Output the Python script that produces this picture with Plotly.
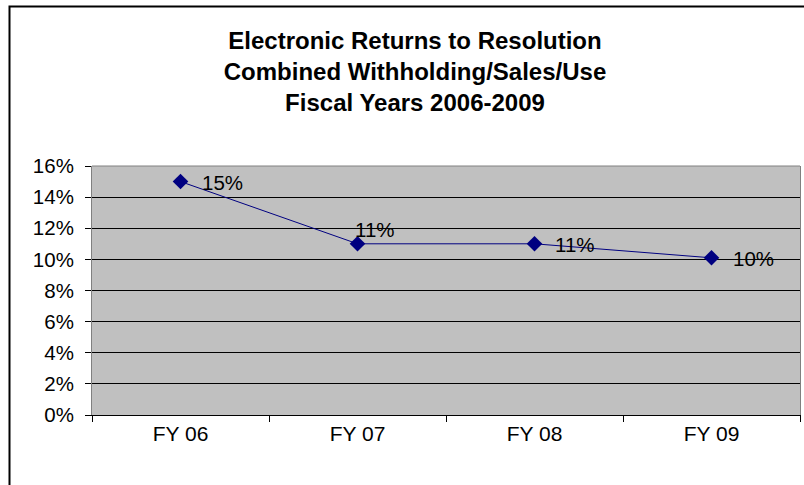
import plotly.graph_objects as go

categories = ["FY 06", "FY 07", "FY 08", "FY 09"]
values = [0.15, 0.11, 0.11, 0.101]
labels = ["15%", "11%", "11%", "10%"]
y_ticks = [0, 0.02, 0.04, 0.06, 0.08, 0.10, 0.12, 0.14, 0.16]
y_tick_text = ["0%", "2%", "4%", "6%", "8%", "10%", "12%", "14%", "16%"]

# label pixel offsets (style only)
label_dx = [19, -5, 18, 19]
label_dy = [-1, 14, -1, -1]

W, H = 804, 485
L, R, T, B = 92, 4, 166, 70
pw, ph = W - L - R, H - T - B

font = "Arial, Liberation Sans, sans-serif"

fig = go.Figure()
fig.add_trace(go.Scatter(
    x=categories, y=values, mode="lines+markers",
    line=dict(color="#000080", width=1),
    marker=dict(symbol="diamond", size=12, color="#000080"),
    cliponaxis=False, showlegend=False,
))

for c, v, t, dx, dy in zip(categories, values, labels, label_dx, label_dy):
    fig.add_annotation(x=c, y=v, text=t, showarrow=False, xanchor="left", yanchor="middle",
                       xshift=dx, yshift=dy, font=dict(family=font, size=20.5, color="black"))

def px_x(p):
    return (p - L) / pw

def px_y(p):
    return (H - B - p) / ph

fig.update_layout(
    width=W, height=H,
    margin=dict(l=L, r=R, t=T, b=B),
    paper_bgcolor="white", plot_bgcolor="#C0C0C0",
    font=dict(family=font, size=20.5, color="black"),
    title=dict(
        text="Electronic Returns to Resolution<br>Combined Withholding/Sales/Use<br>Fiscal Years 2006-2009",
        x=415 / W, xanchor="center", y=1 - 49 / H, yanchor="top",
        font=dict(family=font, size=24, color="black", weight="bold"),
    ),
    xaxis=dict(
        type="category", showgrid=False, showline=True, linecolor="black", linewidth=1,
        ticks="outside", tickson="boundaries", ticklen=6, tickcolor="black",
        tickfont=dict(size=21), range=[-0.5, 3.5],
    ),
    yaxis=dict(
        range=[0, 0.16], tickvals=y_ticks, ticktext=y_tick_text,
        showgrid=True, gridcolor="black", gridwidth=1, zeroline=False,
        showline=True, linecolor="#808080", linewidth=1, mirror=True,
        ticks="outside", ticklen=6, tickcolor="black", tickfont=dict(size=20.5),
        ticklabelstandoff=7,
    ),
    shapes=[
        dict(type="line", xref="paper", yref="paper", x0=0, x1=1, y0=1, y1=1,
             line=dict(color="#808080", width=1)),
        dict(type="rect", xref="paper", yref="paper",
             x0=px_x(9.5), x1=px_x(812), y0=px_y(6.5), y1=px_y(495),
             line=dict(color="black", width=2), layer="above"),
    ],
)

fig.write_html("out.html")
